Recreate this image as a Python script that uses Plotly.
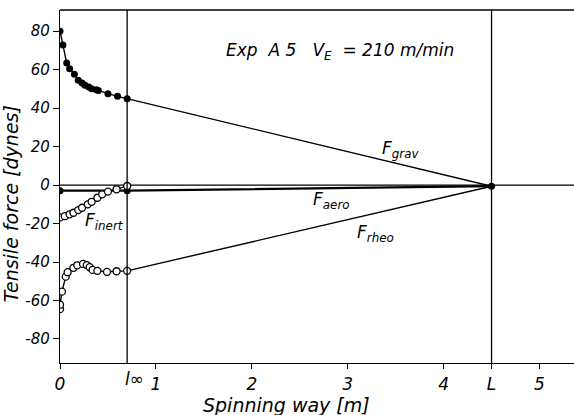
import plotly.graph_objects as go

l_inf = 0.70
L_pos = 4.5

grav_x = [0.0, 0.03, 0.07, 0.10, 0.15, 0.19, 0.23, 0.26, 0.30, 0.33, 0.38, 0.40, 0.50, 0.60, 0.70]
grav_y = [80.0, 72.8, 63.4, 60.5, 57.6, 54.5, 53.0, 51.9, 51.0, 50.1, 49.6, 49.2, 47.5, 46.1, 44.9]

inert_x = [0.0, 0.05, 0.10, 0.14, 0.19, 0.23, 0.29, 0.33, 0.39, 0.44, 0.50, 0.59, 0.70]
inert_y = [-16.8, -16.2, -15.2, -14.4, -13.0, -11.8, -10.0, -8.7, -6.6, -4.8, -3.4, -2.2, -0.5]

aero_x = [0.0, 0.70]
aero_y = [-2.9, -2.9]

rheo_x = [0.0, 0.0, 0.02, 0.06, 0.08, 0.14, 0.18, 0.24, 0.28, 0.31, 0.34, 0.39, 0.49, 0.59, 0.70]
rheo_y = [-64.5, -62.2, -55.4, -47.6, -45.3, -43.0, -41.7, -41.0, -41.6, -42.7, -44.1, -44.6, -45.1, -44.8, -44.6]

end_y = -0.6

x_ticks = [0, 1, 2, 3, 4, L_pos, 5]
x_ticktext = ["0", "1", "2", "3", "4", "L", "5"]
y_ticks = [-80, -60, -40, -20, 0, 20, 40, 60, 80]
y_ticktext = ["-80", "-60", "-40", "-20", "0", "20", "40", "60", "80"]

FONT = "DejaVu Sans"
fig = go.Figure()

# zero line
fig.add_trace(go.Scatter(x=[0, 5.4], y=[0, 0], mode="lines",
                         line=dict(color="black", width=1.2), showlegend=False, hoverinfo="skip"))

# grav
fig.add_trace(go.Scatter(x=grav_x + [L_pos], y=grav_y + [end_y], mode="lines",
                         line=dict(color="black", width=1.4), showlegend=False))
fig.add_trace(go.Scatter(x=grav_x, y=grav_y, mode="markers",
                         marker=dict(color="black", size=7), showlegend=False))
# aero
fig.add_trace(go.Scatter(x=aero_x + [L_pos], y=aero_y + [end_y], mode="lines",
                         line=dict(color="black", width=2.2), showlegend=False))
fig.add_trace(go.Scatter(x=aero_x, y=aero_y, mode="markers",
                         marker=dict(color="black", size=7), showlegend=False))
# inert
fig.add_trace(go.Scatter(x=inert_x, y=inert_y, mode="lines+markers",
                         line=dict(color="black", width=1.2),
                         marker=dict(color="white", size=7, line=dict(color="black", width=1.3)),
                         showlegend=False))
# rheo
fig.add_trace(go.Scatter(x=rheo_x + [L_pos], y=rheo_y + [end_y], mode="lines",
                         line=dict(color="black", width=1.4), showlegend=False))
fig.add_trace(go.Scatter(x=rheo_x, y=rheo_y, mode="markers",
                         marker=dict(color="white", size=7, line=dict(color="black", width=1.3)),
                         showlegend=False))
# L point
fig.add_trace(go.Scatter(x=[L_pos], y=[end_y], mode="markers",
                         marker=dict(color="black", size=7), showlegend=False))

# vertical lines and top border
for xv in [l_inf, L_pos]:
    fig.add_shape(type="line", x0=xv, x1=xv, y0=0, y1=1, xref="x", yref="paper",
                  line=dict(color="black", width=1.3))
fig.add_shape(type="line", x0=0, x1=1, y0=1, y1=1, xref="paper", yref="paper",
              line=dict(color="black", width=1.3))

def it(size):
    return dict(family=FONT, size=size, color="black", style="italic")

def lab(x, y, main, sub):
    fig.add_annotation(x=x, y=y, text=f"{main}<sub>{sub}</sub>", showarrow=False,
                       font=it(17), xanchor="left", yanchor="middle")

lab(3.34, 18.5, "F", "grav")
lab(2.62, -8, "F", "aero")
lab(3.08, -25, "F", "rheo")
lab(0.24, -19, "F", "inert")

fig.add_annotation(x=1.71, y=69.5, text="Exp  A 5   V<sub>E</sub>  = 210 m/min", showarrow=False,
                   font=it(17), xanchor="left", yanchor="middle")

# l_inf label below the axis
fig.add_annotation(x=l_inf - 0.04, y=-0.045, xref="x", yref="paper", text="l∞", showarrow=False,
                   font=it(17), xanchor="left", yanchor="middle")

# axis titles
fig.add_annotation(x=2.36, y=-0.12, xref="x", yref="paper", text="Spinning way [m]", showarrow=False,
                   font=it(19), xanchor="center", yanchor="middle")
fig.add_annotation(x=-0.095, y=0.45, xref="paper", yref="paper", text="Tensile force [dynes]",
                   showarrow=False, textangle=-90, font=it(19), xanchor="center", yanchor="middle")

fig.update_layout(
    width=574, height=415,
    margin=dict(l=60, r=0, t=10, b=52),
    plot_bgcolor="white", paper_bgcolor="white",
    font=it(15),
    xaxis=dict(range=[0, 5.36], tickvals=x_ticks, ticktext=x_ticktext,
               showgrid=False, zeroline=False, showline=True, linecolor="black", linewidth=1.3,
               ticks="outside", ticklen=5, tickcolor="black", tickfont=it(17)),
    yaxis=dict(range=[-92.5, 91], tickvals=y_ticks, ticktext=y_ticktext,
               showgrid=False, zeroline=False, showline=True, linecolor="black", linewidth=1.3,
               ticks="outside", ticklen=6, tickcolor="black", tickfont=it(15)),
)

fig.write_html("out.html")
